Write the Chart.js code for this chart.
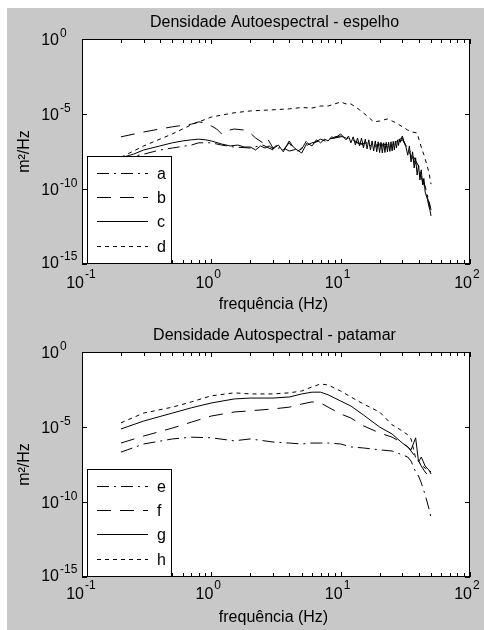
<!DOCTYPE html>
<html>
<head>
<meta charset="utf-8">
<script src="https://cdn.jsdelivr.net/npm/chart.js@4.4.0/dist/chart.umd.min.js"></script>
<style>
  body { margin: 0; background: #fff; }
  #fig { position: absolute; left: 7px; top: 8px; width: 477px; height: 622px; background: #c8c8c8; }
  canvas { position: absolute; left: 0; }
</style>
</head>
<body>
<div id="fig"></div>
<canvas id="chartTop" width="484" height="315" style="top:0"></canvas>
<canvas id="chartBottom" width="484" height="315" style="top:315px"></canvas>
<script>
// axis ticks (powers of ten)
const xTickExps = [-1, 0, 1, 2];
const yTickExps = [0, -5, -10, -15];

// --- top plot: espelho ---
const freqTopA = [0.2,0.3,0.4,0.5,0.7,0.8,1,1.2,1.5,2,2.5,3,3.5,4,5,6,7,8,10,12,15,18,20,25,30,33,36,40,44,48,50];
const seriesA = [1e-8,2.1e-8,4e-8,5.4e-8,8.5e-8,1.2e-7,1.2e-7,8.5e-8,6.3e-8,5.4e-8,8.5e-8,4e-8,6.3e-8,3.4e-8,5.4e-8,1.2e-7,1.6e-7,2.1e-7,3e-7,2.1e-7,8.5e-8,7.4e-8,1e-7,8.5e-8,1.9e-7,5.4e-8,1.8e-8,3.4e-9,3e-10,1.9e-11,4e-12];

const freqTopB = [0.2,0.3,0.4,0.5,0.7,0.8,0.9,1,1.1,1.2,1.3,1.5,1.8,2,2.2,2.5,2.7,3,3.3,3.6,4,4.5,5,5.5,6,7,8,9,10,12,14,16,18,20,23,26,28,30,33,36,40,44,48,50];
const seriesB = [3e-7,6.3e-7,1e-6,1.4e-6,2.1e-6,3e-6,2.5e-6,1.6e-6,1e-6,4.7e-7,7.4e-7,1e-6,8.5e-7,5.4e-7,2.5e-7,1.2e-7,2.5e-7,5.4e-8,1e-7,4e-8,1.2e-7,3e-8,4.7e-8,1.9e-7,1e-7,2.1e-7,1.3e-7,3e-7,3.4e-7,1.9e-7,1e-7,1.2e-7,6.3e-8,8.5e-8,6.3e-8,1e-7,1.9e-7,2.5e-7,4e-8,1.2e-8,1.9e-9,1.9e-10,1.3e-11,2.9e-12];

const freqTopC = [0.2,0.25,0.3,0.4,0.5,0.6,0.7,0.8,0.9,1,1.2,1.4,1.6,1.8,2,2.2,2.4,2.6,2.8,3,3.3,3.6,4,4.3,4.6,5,5.5,6,6.5,7,7.5,8,8.5,9,9.5,10,
  11,11.5,12,12.5,13,13.5,14,14.5,15,15.5,16,16.5,17,17.5,18,18.5,19,19.5,20,20.5,21,21.5,22,22.5,23,23.5,24,24.5,25,25.5,26,26.5,27,27.5,28,28.5,29,29.5,30,
  31,32,33,34,35,36,37,38,39,40,41,42,43,44,45,46,47,48,49,50];
const seriesC = [1.2e-8,2.1e-8,4e-8,7.4e-8,1.2e-7,1.6e-7,1.9e-7,2.1e-7,1.9e-7,1.6e-7,1e-7,7.4e-8,8.5e-8,6.3e-8,6.3e-8,4e-8,7.4e-8,5.4e-8,7.4e-8,4.7e-8,8.5e-8,3e-8,1.6e-7,6.3e-8,4e-8,2.5e-8,1.2e-7,7.4e-8,1.9e-7,1.2e-7,2.1e-7,1.6e-7,3e-7,2.5e-7,3.4e-7,4.7e-7,
  1.9e-7,3.4e-7,1.2e-7,3e-7,8.5e-8,2.5e-7,7.4e-8,2.5e-7,5.4e-8,2.1e-7,4.7e-8,1.9e-7,4e-8,1.6e-7,3.4e-8,1.6e-7,3e-8,1.4e-7,2.7e-8,1.3e-7,2.5e-8,1.2e-7,2.7e-8,1.3e-7,3e-8,1.3e-7,3.2e-8,1.4e-7,3.4e-8,1.5e-7,4e-8,1.6e-7,5.4e-8,1.9e-7,8e-8,2.1e-7,1.3e-7,2.5e-7,3.4e-7,
  1.2e-7,6.3e-8,1.8e-8,7.4e-8,6.3e-9,3e-8,2.5e-9,1.2e-8,8.5e-10,4e-9,4e-10,1.9e-9,1.9e-10,5e-10,6.3e-11,3.4e-11,1.9e-11,7.4e-12,4e-12,1.6e-12];

const freqTopD = [0.2,0.3,0.5,0.7,1,1.5,2,3,4,5,6,7,8,9,10,11,12,14,16,18,20,23,25,27,30,33,36,39,40,42,44,46,48,50];
const seriesD = [1.3e-8,7.4e-8,4.7e-7,1.9e-6,6.3e-6,1.2e-5,1.6e-5,1.9e-5,2.2e-5,2.7e-5,2.5e-5,3.4e-5,3.4e-5,4.7e-5,6.3e-5,4.7e-5,4.7e-5,1.9e-5,7.4e-6,3e-6,3.4e-6,4.7e-6,3.4e-6,2.5e-6,1.4e-6,8.5e-7,6.3e-7,5.4e-7,2.5e-7,6.3e-8,1.9e-8,5.4e-9,1.4e-9,2.1e-10];

// --- bottom plot: patamar ---
const freqBottom = [0.2,0.3,0.5,0.7,1,1.5,2,3,4,5,6,7,8,10,12,15,20,25,30,33,35,38,40,42,45,48,50];
const seriesE = [2.1e-7,7.4e-7,1.6e-6,2.1e-6,1.9e-6,1.2e-6,1.6e-6,1e-6,8.5e-7,7.4e-7,8.5e-7,8.5e-7,8.5e-7,7.4e-7,4.7e-7,4e-7,3e-7,2.5e-7,1.4e-7,1e-7,5.4e-8,1e-8,5.4e-9,1.9e-9,3e-10,4e-11,8.5e-12];
const seriesF = [8.5e-7,2.5e-6,8.5e-6,2.1e-5,5.4e-5,1e-4,1.2e-4,1.6e-4,2.1e-4,3.4e-4,4.7e-4,4e-4,2.1e-4,7.4e-5,4e-5,1.2e-5,4e-6,2.1e-6,8.5e-7,4.7e-7,2.5e-7,1e-7,5.4e-8,2.5e-8,1e-8,5.4e-9,3.4e-9];
const seriesG = [7.4e-6,2.5e-5,8.5e-5,1.9e-4,4e-4,7.4e-4,8.5e-4,8.5e-4,1e-3,1.6e-3,2.1e-3,2.1e-3,1.4e-3,5.4e-4,2.5e-4,6.3e-5,1e-5,3.4e-6,8.5e-7,4.7e-7,3e-7,1.9e-6,4.7e-8,1e-7,2.5e-8,1.4e-8,7.4e-9];
const seriesH = [1.9e-5,8.5e-5,2.1e-4,4.7e-4,1.2e-3,1.9e-3,1.6e-3,1.6e-3,1.9e-3,2.5e-3,4.7e-3,7.4e-3,6.3e-3,2.5e-3,1e-3,3.4e-4,1e-4,1.4e-5,5.4e-6,3e-6,1.6e-6,8.5e-8,5.4e-8,3e-8,1.8e-8,1.4e-8,1e-8];

const FONT = '"Liberation Sans", Arial, sans-serif';
const dashDot = [12, 5, 2, 5];
const dashed = [14, 9];
const dotted = [4, 4];

function pts(freq, vals) {
  return freq.map((f, i) => ({ x: f, y: vals[i] }));
}

function line(label, freq, vals, dash) {
  return { label: label, data: pts(freq, vals), borderColor: '#000', borderWidth: 1, borderDash: dash, pointRadius: 0, tension: 0, fill: false };
}

function powLabel(ctx, exp, xRight, base, expBase) {
  ctx.font = '16px ' + FONT;
  ctx.textAlign = 'right';
  ctx.fillText('10', xRight, base);
  ctx.font = '12px ' + FONT;
  ctx.textAlign = 'left';
  ctx.fillText(String(exp), xRight + 1, expBase);
}

// draws the matlab style box, inward ticks, labels and legend
const matlabAxes = {
  id: 'matlabAxes',
  beforeDatasetsDraw(chart) {
    const { ctx, chartArea: a } = chart;
    ctx.save();
    ctx.fillStyle = '#fff';
    ctx.fillRect(a.left, a.top, a.right - a.left, a.bottom - a.top);
    ctx.restore();
  },
  afterDatasetsDraw(chart, args, opts) {
    const { ctx, chartArea: a, scales: { x, y } } = chart;
    ctx.save();
    ctx.strokeStyle = '#000';
    ctx.fillStyle = '#000';
    ctx.lineWidth = 1;
    ctx.setLineDash([]);
    ctx.strokeRect(a.left + 0.5, a.top + 0.5, a.right - a.left - 1, a.bottom - a.top - 1);

    // x ticks, major + minor
    ctx.beginPath();
    xTickExps.forEach(e => {
      for (let k = 1; k <= 9; k++) {
        const v = k * Math.pow(10, e);
        if (v > 100) break;
        const px = Math.round(x.getPixelForValue(v)) + 0.5;
        const len = k === 1 ? 5 : 4;
        ctx.moveTo(px, a.bottom); ctx.lineTo(px, a.bottom - len);
        ctx.moveTo(px, a.top); ctx.lineTo(px, a.top + len);
      }
    });
    yTickExps.forEach(e => {
      const py = Math.round(y.getPixelForValue(Math.pow(10, e))) + 0.5;
      ctx.moveTo(a.left, py); ctx.lineTo(a.left + 5, py);
      ctx.moveTo(a.right, py); ctx.lineTo(a.right - 5, py);
    });
    ctx.stroke();

    // tick labels
    xTickExps.forEach(e => {
      const px = x.getPixelForValue(Math.pow(10, e));
      powLabel(ctx, e, px + 2, a.bottom + opts.xBase, a.bottom + opts.xBase - 10);
    });
    yTickExps.forEach(e => {
      const py = y.getPixelForValue(Math.pow(10, e));
      const b = e === -15 ? py + 4 : py + 6;
      powLabel(ctx, e, 59, b, b - 8);
    });

    // title and axis labels
    const cx = (a.left + a.right) / 2 - 1.5;
    ctx.font = '16px ' + FONT;
    ctx.textAlign = 'center';
    ctx.fillText(opts.title, cx, a.top - 12);
    ctx.fillText('frequência (Hz)', cx - 1, a.bottom + 45);
    ctx.save();
    ctx.translate(29, (a.top + a.bottom) / 2);
    ctx.rotate(-Math.PI / 2);
    ctx.fillText('m²/Hz', 0, 0);
    ctx.restore();

    // legend box
    const lx = a.left + 5, lw = 85, ly = a.top + 117;
    ctx.fillStyle = '#fff';
    ctx.fillRect(lx, ly, lw, a.bottom - ly);
    ctx.strokeRect(lx + 0.5, ly + 0.5, lw - 1, a.bottom - ly - 1);
    const rows = [134, 158, 182, 207];
    ctx.fillStyle = '#000';
    ctx.textAlign = 'left';
    chart.data.datasets.forEach((ds, i) => {
      const ry = a.top + rows[i] + 0.5;
      ctx.setLineDash(ds.borderDash);
      ctx.beginPath();
      ctx.moveTo(lx + 10, ry);
      ctx.lineTo(lx + 61, ry);
      ctx.stroke();
      ctx.setLineDash([]);
      ctx.fillText(ds.label, lx + 70, ry + 5);
    });
    ctx.restore();
  }
};

function makeChart(id, datasets, title, pad, xBase) {
  return new Chart(document.getElementById(id), {
    type: 'line',
    data: { datasets: datasets },
    options: {
      responsive: false,
      animation: false,
      devicePixelRatio: 1,
      layout: { padding: pad },
      plugins: {
        legend: { display: false },
        tooltip: { enabled: false },
        matlabAxes: { title: title, xBase: xBase }
      },
      scales: {
        x: { type: 'logarithmic', min: 0.1, max: 100, display: false },
        y: { type: 'logarithmic', min: 1e-15, max: 1, display: false }
      }
    },
    plugins: [matlabAxes]
  });
}

makeChart('chartTop', [
  line('a', freqTopA, seriesA, dashDot),
  line('b', freqTopB, seriesB, dashed),
  line('c', freqTopC, seriesC, []),
  line('d', freqTopD, seriesD, dotted)
], 'Densidade Autoespectral - espelho', { left: 82, right: 14, top: 39, bottom: 51 }, 24);

makeChart('chartBottom', [
  line('e', freqBottom, seriesE, dashDot),
  line('f', freqBottom, seriesF, dashed),
  line('g', freqBottom, seriesG, []),
  line('h', freqBottom, seriesH, dotted)
], 'Densidade Autospectral - patamar', { left: 82, right: 14, top: 37, bottom: 53 }, 22);
</script>
</body>
</html>
